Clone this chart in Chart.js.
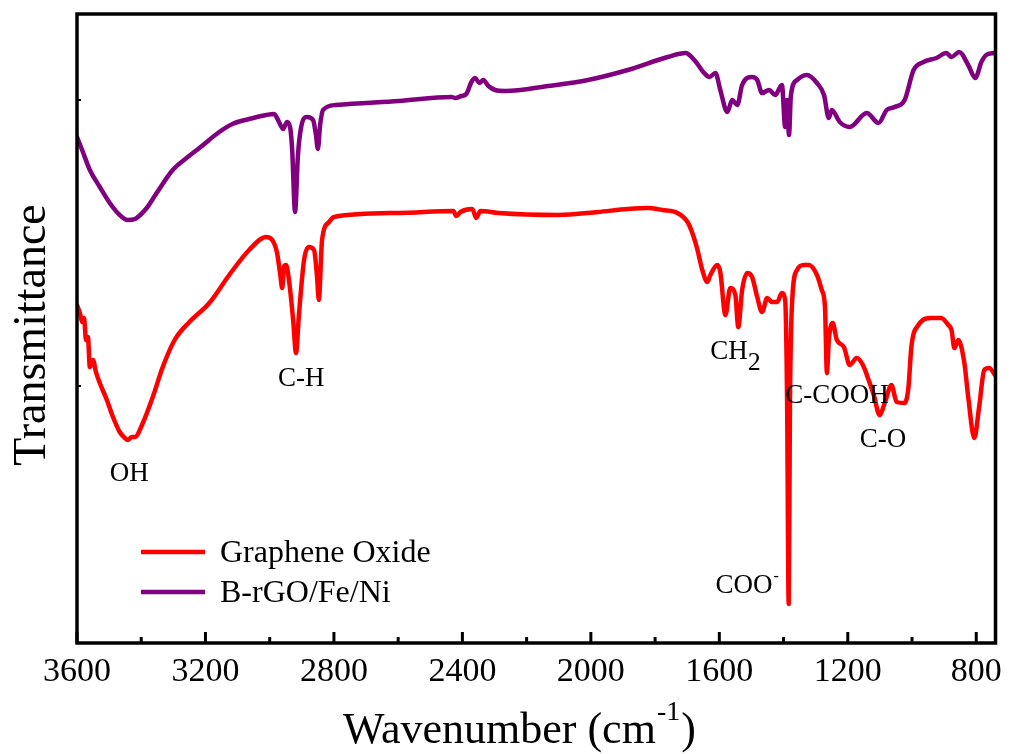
<!DOCTYPE html>
<html>
<head>
<meta charset="utf-8">
<script src="https://cdn.jsdelivr.net/npm/chart.js@4/dist/chart.umd.min.js"></script>
<style>
  html, body { margin: 0; padding: 0; background: #fff; }
</style>
</head>
<body>
<canvas id="chart" width="1011" height="754"></canvas>
<script>
//-----------------------------------------------------------------------------
// Data (transmittance in arbitrary units)
//-----------------------------------------------------------------------------

var goWavenumber = [3600, 3591, 3584, 3578, 3572, 3566, 3560, 3550, 3541, 3529, 3507, 3488, 3467, 3451, 3442, 3429, 3420, 3395, 3364, 3333, 3296, 3250, 3188, 3126, 3064, 3011, 2992, 2977, 2967, 2961, 2955, 2949, 2940, 2927, 2918, 2909, 2893, 2878, 2862, 2853, 2847, 2837, 2815, 2800, 2598, 2428, 2419, 2406, 2369, 2357, 2344, 2288, 2102, 1978, 1885, 1823, 1777, 1730, 1699, 1684, 1668, 1653, 1637, 1628, 1606, 1597, 1581, 1566, 1550, 1541, 1529, 1513, 1498, 1482, 1467, 1451, 1436, 1420, 1405, 1395, 1389, 1384, 1380, 1373, 1358, 1336, 1321, 1296, 1281, 1271, 1265, 1259, 1247, 1234, 1212, 1194, 1172, 1153, 1135, 1119, 1101, 1085, 1064, 1048, 1023, 1011, 1002, 980, 940, 909, 887, 877, 868, 856, 837, 825, 806, 791, 775, 760, 741];
var goValue = [338, 330, 321, 325, 303, 306, 276, 283, 271, 260, 243, 226, 211, 205, 203, 206, 206, 220, 246, 276, 303, 321, 340, 368, 393, 406, 403, 390, 368, 355, 377, 378, 363, 323, 290, 328, 383, 396, 393, 368, 343, 403, 421, 426, 430, 432, 427, 431, 434, 425, 432, 430, 428, 431, 434, 435, 433, 430, 421, 410, 393, 373, 361, 368, 378, 371, 328, 355, 348, 316, 353, 370, 366, 346, 331, 345, 341, 341, 350, 343, 243, 39, 243, 343, 373, 378, 378, 368, 353, 336, 270, 303, 320, 303, 296, 278, 285, 278, 263, 248, 228, 240, 258, 241, 240, 256, 296, 318, 325, 325, 318, 313, 295, 303, 280, 246, 205, 236, 273, 275, 268];

var rgoWavenumber = [3600, 3584, 3560, 3529, 3498, 3467, 3442, 3420, 3383, 3352, 3302, 3259, 3219, 3157, 3116, 3064, 3011, 2986, 2971, 2958, 2946, 2936, 2930, 2921, 2912, 2902, 2884, 2865, 2856, 2850, 2843, 2834, 2794, 2598, 2434, 2422, 2403, 2388, 2372, 2360, 2347, 2335, 2319, 2298, 2267, 2133, 2009, 1885, 1761, 1705, 1678, 1647, 1631, 1612, 1597, 1575, 1560, 1544, 1529, 1498, 1482, 1467, 1445, 1426, 1405, 1395, 1389, 1383, 1377, 1358, 1327, 1296, 1274, 1259, 1250, 1225, 1194, 1141, 1104, 1079, 1054, 1023, 995, 964, 924, 893, 877, 853, 825, 803, 784, 769, 744];
var rgoValue = [506, 493, 473, 456, 440, 428, 423, 424, 435, 450, 473, 485, 495, 511, 519, 524, 528, 529, 521, 514, 521, 515, 493, 431, 488, 516, 526, 523, 508, 494, 518, 533, 538, 542, 546, 545, 547, 549, 561, 565, 560, 563, 557, 553, 552, 557, 563, 573, 586, 590, 583, 570, 566, 570, 553, 531, 543, 538, 558, 566, 563, 550, 553, 548, 558, 516, 543, 508, 548, 563, 568, 560, 548, 525, 533, 521, 516, 530, 520, 533, 536, 543, 573, 581, 585, 590, 586, 591, 578, 565, 581, 588, 590];

var seriesNames = ['Graphene Oxide', 'B-rGO/Fe/Ni'];
var seriesColors = ['#ff0000', '#800080'];
var xTickLabels = [3600, 3200, 2800, 2400, 2000, 1600, 1200, 800];
var xMinorTicks = [3400, 3000, 2600, 2200, 1800, 1400, 1000];
var yTicks = [257, 543];

// peak assignments: [text, subscript, superscript, wavenumber, value] (left edge, baseline)
var peakLabels = [
  ['OH', '', '', 3498, 162],
  ['C-H', '', '', 2974, 257],
  ['CH', '2', '', 1628, 284],
  ['C-COOH', '', '', 1395, 240],
  ['C-O', '', '', 1163, 196],
  ['COO', '', '-', 1612, 50]
];

function toPoints(xs, ys) {
  return xs.map(function(x, i) { return {x: x, y: ys[i]}; });
}

//-----------------------------------------------------------------------------
// Frame, inward ticks, titles, legend and peak labels
//-----------------------------------------------------------------------------

var SERIF = '"Liberation Serif", "Times New Roman", serif';

var decor = {
  id: 'decor',
  afterDraw: function(chart) {
    var ctx = chart.ctx, a = chart.chartArea;
    var xs = chart.scales.x, ys = chart.scales.y;
    ctx.save();
    ctx.strokeStyle = '#000';
    ctx.lineCap = 'butt';

    // inward ticks on the bottom axis
    ctx.lineWidth = 3;
    xTickLabels.forEach(function(v) {
      var px = xs.getPixelForValue(v);
      ctx.beginPath(); ctx.moveTo(px, a.bottom); ctx.lineTo(px, a.bottom - 11); ctx.stroke();
    });
    xMinorTicks.forEach(function(v) {
      var px = xs.getPixelForValue(v);
      ctx.beginPath(); ctx.moveTo(px, a.bottom); ctx.lineTo(px, a.bottom - 6); ctx.stroke();
    });
    ctx.lineWidth = 2;
    yTicks.forEach(function(v) {
      var py = ys.getPixelForValue(v);
      ctx.beginPath(); ctx.moveTo(a.left, py); ctx.lineTo(a.left + 4, py); ctx.stroke();
    });

    // frame
    ctx.lineWidth = 3.5;
    ctx.strokeRect(a.left, a.top, a.right - a.left, a.bottom - a.top);

    ctx.fillStyle = '#000';
    ctx.textBaseline = 'alphabetic';

    // x title with superscript
    ctx.textAlign = 'left';
    ctx.font = '44px ' + SERIF;
    var t1 = 'Wavenumber (cm';
    var tx = 343, ty = 743;
    ctx.fillText(t1, tx, ty);
    tx += ctx.measureText(t1).width;
    ctx.font = '28px ' + SERIF;
    ctx.fillText('-1', tx + 1, ty - 23);
    tx += ctx.measureText('-1').width + 2;
    ctx.font = '44px ' + SERIF;
    ctx.fillText(')', tx, ty);

    // y title
    ctx.save();
    ctx.translate(45, 335);
    ctx.rotate(-Math.PI / 2);
    ctx.textAlign = 'center';
    ctx.font = '46px ' + SERIF;
    ctx.fillText('Transmittance', 0, 0);
    ctx.restore();

    // legend
    ctx.font = '32px ' + SERIF;
    ctx.textAlign = 'left';
    ctx.lineWidth = 4.5;
    seriesNames.forEach(function(name, i) {
      var ly = 552 + i * 40;
      ctx.strokeStyle = seriesColors[i];
      ctx.beginPath(); ctx.moveTo(141, ly); ctx.lineTo(205, ly); ctx.stroke();
      ctx.fillText(name, 220, ly + 10);
    });

    // peak labels
    peakLabels.forEach(function(p) {
      var left = xs.getPixelForValue(p[3]), py = ys.getPixelForValue(p[4]);
      ctx.font = '27px ' + SERIF;
      var w = ctx.measureText(p[0]).width;
      ctx.fillText(p[0], left, py);
      if (p[1]) {
        ctx.font = '26px ' + SERIF;
        ctx.fillText(p[1], left + w, py + 11);
      }
      if (p[2]) {
        ctx.font = '16px ' + SERIF;
        ctx.fillText(p[2], left + w + 1, py - 12);
      }
    });
    ctx.restore();
  }
};

//-----------------------------------------------------------------------------
// Chart
//-----------------------------------------------------------------------------

var chart = new Chart(document.getElementById('chart'), {
  type: 'line',
  data: {
    datasets: [
      {
        label: seriesNames[0],
        data: toPoints(goWavenumber, goValue),
        borderColor: seriesColors[0],
        borderWidth: 4.5
      },
      {
        label: seriesNames[1],
        data: toPoints(rgoWavenumber, rgoValue),
        borderColor: seriesColors[1],
        borderWidth: 4.5
      }
    ]
  },
  options: {
    responsive: false,
    animation: false,
    parsing: false,
    elements: {
      point: { radius: 0 },
      line: { cubicInterpolationMode: 'monotone', borderJoinStyle: 'round', borderCapStyle: 'round' }
    },
    layout: { padding: { left: 77, right: 12, top: 14, bottom: 0 } },
    plugins: {
      legend: { display: false },
      tooltip: { enabled: false }
    },
    scales: {
      x: {
        type: 'linear',
        reverse: true,
        min: 740,
        max: 3600,
        grid: { display: false, drawTicks: false },
        border: { display: false },
        ticks: {
          padding: 9,
          color: '#000',
          font: { family: SERIF, size: 34 },
          maxRotation: 0,
          callback: function(v) { return String(v); }
        },
        afterBuildTicks: function(scale) {
          scale.ticks = xTickLabels.map(function(v) { return {value: v}; });
        },
        afterFit: function(scale) { scale.height = 111; }
      },
      y: {
        display: false,
        min: 0,
        max: 629
      }
    }
  },
  plugins: [decor]
});
</script>
</body>
</html>
